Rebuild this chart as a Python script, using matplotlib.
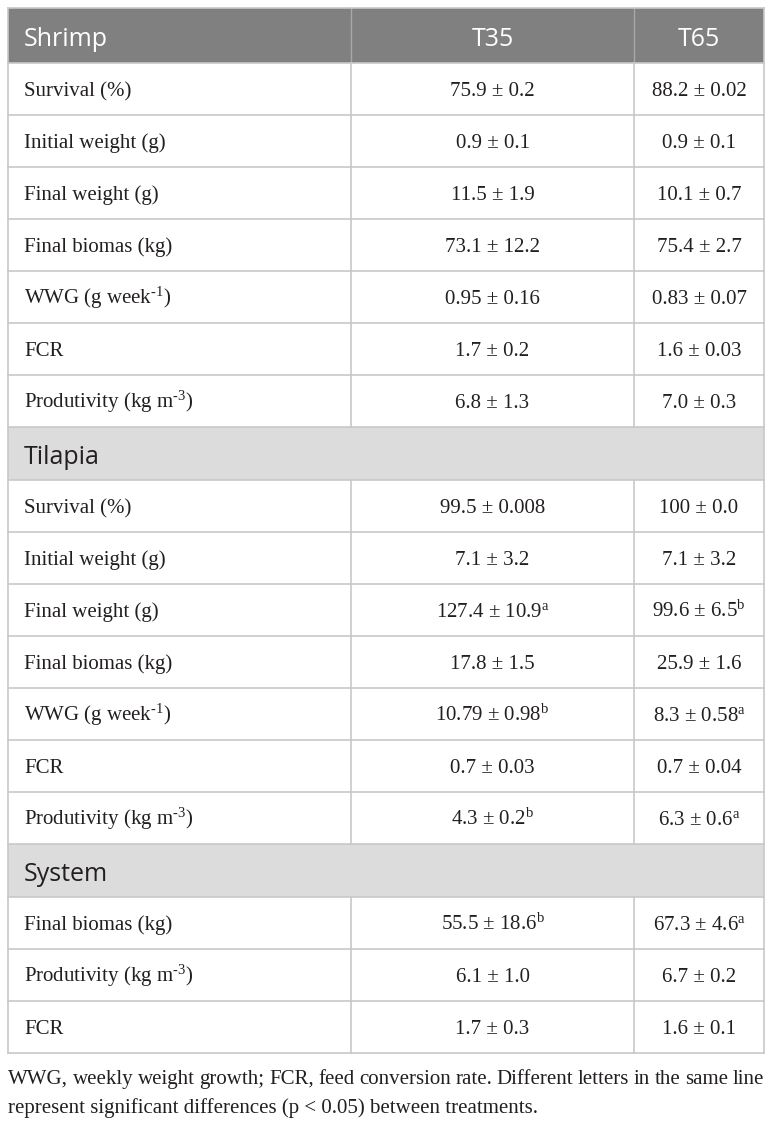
import matplotlib
matplotlib.use("Agg")
import matplotlib.pyplot as plt
from matplotlib.patches import Rectangle

plt.rcParams['mathtext.fontset'] = 'custom'
plt.rcParams['mathtext.rm'] = 'Liberation Serif'
plt.rcParams['mathtext.it'] = 'Liberation Serif:italic'

# ---------------- data ----------------
columns = ["Shrimp", "T35", "T65"]
sections = ["Shrimp", "Tilapia", "System"]

shrimp_labels = ["Survival (%)", "Initial weight (g)", "Final weight (g)", "Final biomas (kg)",
                 "WWG (g week$^{\\mathrm{\u20101}}$)", "FCR", "Produtivity (kg m$^{\\mathrm{\u20103}}$)"]
shrimp_t35 = ["75.9 ± 0.2", "0.9 ± 0.1", "11.5 ± 1.9", "73.1 ± 12.2", "0.95 ± 0.16", "1.7 ± 0.2", "6.8 ± 1.3"]
shrimp_t65 = ["88.2 ± 0.02", "0.9 ± 0.1", "10.1 ± 0.7", "75.4 ± 2.7", "0.83 ± 0.07", "1.6 ± 0.03", "7.0 ± 0.3"]
shrimp_sup35 = ["", "", "", "", "", "", ""]
shrimp_sup65 = ["", "", "", "", "", "", ""]

tilapia_labels = ["Survival (%)", "Initial weight (g)", "Final weight (g)", "Final biomas (kg)",
                  "WWG (g week$^{\\mathrm{\u20101}}$)", "FCR", "Produtivity (kg m$^{\\mathrm{\u20103}}$)"]
tilapia_t35 = ["99.5 ± 0.008", "7.1 ± 3.2", "127.4 ± 10.9", "17.8 ± 1.5", "10.79 ± 0.98", "0.7 ± 0.03", "4.3 ± 0.2"]
tilapia_t65 = ["100 ± 0.0", "7.1 ± 3.2", "99.6 ± 6.5", "25.9 ± 1.6", "8.3 ± 0.58", "0.7 ± 0.04", "6.3 ± 0.6"]
tilapia_sup35 = ["", "", "a", "", "b", "", "b"]
tilapia_sup65 = ["", "", "b", "", "a", "", "a"]

system_labels = ["Final biomas (kg)", "Produtivity (kg m$^{\\mathrm{\u20103}}$)", "FCR"]
system_t35 = ["55.5 ± 18.6", "6.1 ± 1.0", "1.7 ± 0.3"]
system_t65 = ["67.3 ± 4.6", "6.7 ± 0.2", "1.6 ± 0.1"]
system_sup35 = ["b", "", ""]
system_sup65 = ["a", "", ""]

caption_line1 = "WWG, weekly weight growth; FCR, feed conversion rate. Different letters in the same line"
caption_line2 = "represent significant differences (p < 0.05) between treatments."

# ---------------- layout ----------------
W, H = 772, 1122
fig = plt.figure(figsize=(W / 100, H / 100), dpi=100)
ax = fig.add_axes([0, 0, 1, 1])
ax.set_xlim(0, W)
ax.set_ylim(H, 0)
ax.axis("off")

x0, x1, x2, x3 = 8, 351, 634, 764
y_top = 8
hdr_h = 55
row_h = 52
sec_h = 53
grid = "#c8c8c8"
head_bg = "#808080"
sec_bg = "#dcdcdc"
txt = "#231f20"
serif = ["Liberation Serif", "DejaVu Serif"]
sans = ["Open Sans", "DejaVu Sans"]
fs = 15
fs_h = 18


def cell_text(x, y, s, sup, ha="center"):
    s2 = s + (r"$^{\mathrm{" + sup + "}}$" if sup else "")
    ax.text(x, y, s2, ha=ha, va="baseline", fontsize=fs, family=serif, color=txt)


hlines = []
y = y_top
# header
ax.add_patch(Rectangle((x0, y), x3 - x0, hdr_h, facecolor=head_bg, edgecolor="none"))
ax.plot([x1, x1], [y, y + hdr_h], color="#a8a8a8", lw=1)
ax.plot([x2, x2], [y, y + hdr_h], color="#a8a8a8", lw=1)
ax.text(24, y + hdr_h / 2 + 1, columns[0], ha="left", va="center_baseline", fontsize=fs_h, family=sans, color="white")
ax.text((x1 + x2) / 2, y + hdr_h / 2 + 1, columns[1], ha="center", va="center_baseline", fontsize=fs_h, family=sans, color="white")
ax.text((x2 + x3) / 2, y + hdr_h / 2 + 1, columns[2], ha="center", va="center_baseline", fontsize=fs_h, family=sans, color="white")
y += hdr_h
hlines.append(y)

blocks = [
    (None, shrimp_labels, shrimp_t35, shrimp_sup35, shrimp_t65, shrimp_sup65),
    (sections[1], tilapia_labels, tilapia_t35, tilapia_sup35, tilapia_t65, tilapia_sup65),
    (sections[2], system_labels, system_t35, system_sup35, system_t65, system_sup65),
]

for sec, labels, t35, s35, t65, s65 in blocks:
    if sec is not None:
        ax.add_patch(Rectangle((x0, y), x3 - x0, sec_h, facecolor=sec_bg, edgecolor="none"))
        ax.text(24, y + sec_h / 2 + 1, sec, ha="left", va="center_baseline", fontsize=fs_h, family=sans, color=txt)
        y += sec_h
        hlines.append(y)
    for lab, a, sa, b, sb in zip(labels, t35, s35, t65, s65):
        ax.plot([x1, x1], [y, y + row_h], color=grid, lw=1.2)
        ax.plot([x2, x2], [y, y + row_h], color=grid, lw=1.2)
        by = y + row_h / 2 + 7
        ax.text(24, by, lab, ha="left", va="baseline", fontsize=fs, family=serif, color=txt)
        cell_text((x1 + x2) / 2, by, a, sa)
        cell_text((x2 + x3) / 2, by, b, sb)
        y += row_h
        hlines.append(y)

y_bot = y
for hy in hlines:
    ax.plot([x0, x3], [hy, hy], color=grid, lw=1.2)
ax.plot([x0, x3], [y_top, y_top], color=grid, lw=1.2)
ax.plot([x0, x0], [y_top, y_bot], color=grid, lw=1.2)
ax.plot([x3, x3], [y_top, y_bot], color=grid, lw=1.2)

# ---------------- caption (justified first line) ----------------
fig.canvas.draw()
renderer = fig.canvas.get_renderer()
line1_words = caption_line1.split(" ")


def width_px(s):
    t = ax.text(0, 0, s, fontsize=fs, family=serif)
    bb = t.get_window_extent(renderer=renderer)
    t.remove()
    return bb.width

ws = [width_px(w) for w in line1_words]
gap = ((x3 - x0) - sum(ws)) / (len(line1_words) - 1)
cx = x0
cap_y1 = 1084
for w, wd in zip(line1_words, ws):
    ax.text(cx, cap_y1, w, ha="left", va="baseline", fontsize=fs, family=serif, color=txt)
    cx += wd + gap
ax.text(x0, cap_y1 + 29, caption_line2, ha="left", va="baseline", fontsize=fs, family=serif, color=txt)

fig.savefig("out.png", dpi=100, facecolor="white")
